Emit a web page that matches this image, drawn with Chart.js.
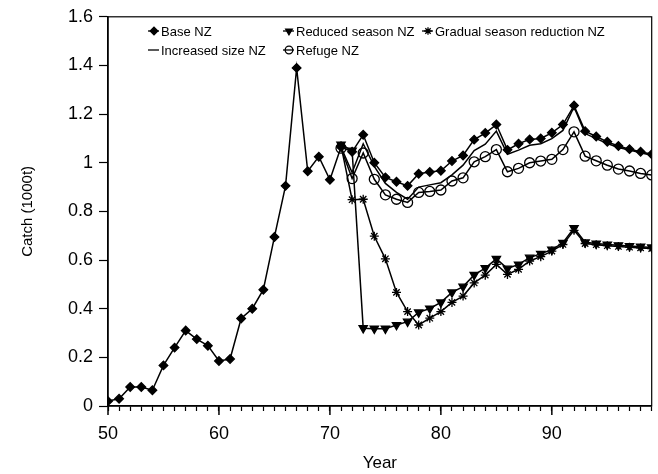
<!DOCTYPE html>
<html>
<head>
<meta charset="utf-8">
<script src="https://cdn.jsdelivr.net/npm/chart.js@4.4.1/dist/chart.umd.min.js"></script>
<style>
  html, body { margin: 0; padding: 0; background: #fff; }
  #wrap { width: 658px; height: 474px; }
</style>
</head>
<body>
<div id="wrap"><canvas id="grafico"></canvas></div>
<script>
const anos = [50, 51, 52, 53, 54, 55, 56, 57, 58, 59,
              60, 61, 62, 63, 64, 65, 66, 67, 68, 69,
              70, 71, 72, 73, 74, 75, 76, 77, 78, 79,
              80, 81, 82, 83, 84, 85, 86, 87, 88, 89,
              90, 91, 92, 93, 94, 95, 96, 97, 98, 99];

const rotulosX = [50, 60, 70, 80, 90];
const rotulosY = [0, 0.2, 0.4, 0.6, 0.8, 1, 1.2, 1.4, 1.6];

const baseNZ = [0.02, 0.03, 0.078, 0.078, 0.065, 0.167, 0.24, 0.31, 0.275, 0.248,
                0.185, 0.193, 0.36, 0.40, 0.478, 0.695, 0.905, 1.39, 0.965, 1.025,
                0.93, 1.065, 1.045, 1.115, 1.0, 0.94, 0.922, 0.905, 0.955, 0.962,
                0.967, 1.007, 1.03, 1.095, 1.122, 1.157, 1.053, 1.078, 1.096, 1.10,
                1.123, 1.157, 1.235, 1.13, 1.108, 1.086, 1.069, 1.056, 1.045, 1.035];

const vazio = [null, null, null, null, null, null, null, null, null, null,
               null, null, null, null, null, null, null, null, null, null, null];

const reducedSeason = vazio.concat([1.075, 1.05, 0.32, 0.318, 0.318, 0.333, 0.347, 0.385, 0.401,
                0.426, 0.467, 0.491, 0.539, 0.567, 0.605, 0.565, 0.582, 0.61, 0.626,
                0.643, 0.671, 0.732, 0.673, 0.668, 0.664, 0.661, 0.658, 0.655, 0.652]);

const gradualSeason = vazio.concat([1.07, 0.848, 0.85, 0.698, 0.605, 0.467, 0.388, 0.333, 0.361,
                0.388, 0.426, 0.452, 0.506, 0.538, 0.582, 0.541, 0.562, 0.596, 0.614,
                0.637, 0.664, 0.722, 0.668, 0.663, 0.659, 0.656, 0.653, 0.65, 0.647]);

const increasedSize = vazio.concat([1.065, 0.96, 1.078, 0.985, 0.915, 0.878, 0.85, 0.9, 0.909,
                0.918, 0.95, 0.99, 1.05, 1.076, 1.13, 1.035, 1.052, 1.072, 1.078,
                1.099, 1.133, 1.229, 1.12, 1.099, 1.079, 1.063, 1.052, 1.041, 1.031]);

const refugeNZ = vazio.concat([1.06, 0.935, 1.04, 0.932, 0.868, 0.85, 0.837, 0.878, 0.882,
                0.888, 0.925, 0.938, 1.004, 1.025, 1.054, 0.963, 0.977, 1.0, 1.007,
                1.014, 1.054, 1.127, 1.027, 1.008, 0.99, 0.974, 0.966, 0.956, 0.95]);

const fonte = '"Liberation Sans", Arial, Helvetica, sans-serif';

// legenda desenhada dentro da area do grafico, duas linhas
const legendaItens = [
  { ds: 0, x: 154, y: 31, texto: 'Base NZ' },
  { ds: 1, x: 289, y: 31, texto: 'Reduced season NZ' },
  { ds: 2, x: 428, y: 31, texto: 'Gradual season reduction NZ' },
  { ds: 3, x: 154, y: 50, texto: 'Increased size NZ' },
  { ds: 4, x: 289, y: 50, texto: 'Refuge NZ' }
];

const molduraPlugin = {
  id: 'moldura',
  afterDraw(chart) {
    const { ctx, chartArea: a, scales } = chart;
    ctx.save();
    ctx.strokeStyle = '#000';
    ctx.lineWidth = 1.2;
    ctx.strokeRect(a.left, a.top, a.right - a.left, a.bottom - a.top);

    // ticks maiores do eixo x
    ctx.lineWidth = 1.5;
    rotulosX.forEach(v => {
      const px = scales.x.getPixelForValue(v);
      ctx.beginPath();
      ctx.moveTo(px, a.bottom);
      ctx.lineTo(px, a.bottom + 9);
      ctx.stroke();
    });

    ctx.font = '13px ' + fonte;
    ctx.textBaseline = 'middle';
    legendaItens.forEach(item => {
      const d = chart.data.datasets[item.ds];
      ctx.strokeStyle = '#000';
      ctx.fillStyle = d.pointBackgroundColor;
      ctx.lineWidth = 1.3;
      ctx.beginPath();
      ctx.moveTo(item.x - 6, item.y);
      ctx.lineTo(item.x + 5, item.y);
      ctx.stroke();
      if (d.pointStyle) {
        Chart.helpers.drawPoint(ctx, {
          pointStyle: d.pointStyle,
          rotation: d.pointRotation || 0,
          radius: 3.8,
          borderWidth: 1.2
        }, item.x, item.y);
      }
      ctx.fillStyle = '#000';
      ctx.fillText(item.texto, item.x + 7, item.y + 1);
    });
    ctx.restore();
  }
};

function serie(label, dados, estilo, fundo, raio, rotacao) {
  return {
    label: label,
    data: dados,
    borderColor: '#000',
    borderWidth: 1.5,
    pointStyle: estilo,
    pointRotation: rotacao || 0,
    pointRadius: estilo ? raio : 0,
    pointBackgroundColor: fundo,
    pointBorderColor: '#000',
    pointBorderWidth: 1.3,
    tension: 0,
    fill: false
  };
}

new Chart(document.getElementById('grafico'), {
  type: 'line',
  data: {
    labels: anos,
    datasets: [
      serie('Base NZ', baseNZ, 'rectRot', '#000', 4.3),
      serie('Reduced season NZ', reducedSeason, 'triangle', '#000', 4.8, 180),
      serie('Gradual season reduction NZ', gradualSeason, 'star', '#000', 4.5),
      serie('Increased size NZ', increasedSize, false, '#000', 0),
      serie('Refuge NZ', refugeNZ, 'circle', 'rgba(0,0,0,0)', 5)
    ]
  },
  options: {
    responsive: true,
    maintainAspectRatio: false,
    animation: false,
    layout: { padding: { left: 0, right: 5, top: 15, bottom: 0 } },
    plugins: {
      legend: { display: false },
      tooltip: { enabled: false }
    },
    scales: {
      x: {
        type: 'linear',
        min: 50,
        max: 99,
        afterFit: s => { s.height = 68; s.paddingLeft = 0; s.paddingRight = 0; },
        afterBuildTicks: s => { s.ticks = anos.map(v => ({ value: v })); },
        ticks: {
          autoSkip: false,
          maxRotation: 0,
          padding: 12,
          color: '#000',
          font: { family: fonte, size: 18 },
          callback: v => rotulosX.includes(v) ? String(v) : ''
        },
        grid: { display: true, drawOnChartArea: false, tickLength: 5, tickColor: '#000', tickWidth: 1.2 },
        border: { display: true, color: '#000', width: 1.5 },
        title: {
          display: true,
          text: 'Year',
          color: '#000',
          font: { family: fonte, size: 17 },
          padding: { top: 0, bottom: 0 }
        }
      },
      y: {
        min: 0,
        max: 1.6,
        afterFit: s => { s.width = 108; },
        afterBuildTicks: s => { s.ticks = rotulosY.map(v => ({ value: v })); },
        ticks: {
          padding: 6,
          color: '#000',
          font: { family: fonte, size: 18 },
          callback: v => String(v)
        },
        grid: { display: true, drawOnChartArea: false, tickLength: 9, tickColor: '#000', tickWidth: 1.2 },
        border: { display: true, color: '#000', width: 1.5 },
        title: {
          display: true,
          text: 'Catch (1000t)',
          color: '#000',
          font: { family: fonte, size: 15 },
          padding: { top: 19, bottom: 0 }
        }
      }
    }
  },
  plugins: [molduraPlugin]
});
</script>
</body>
</html>
